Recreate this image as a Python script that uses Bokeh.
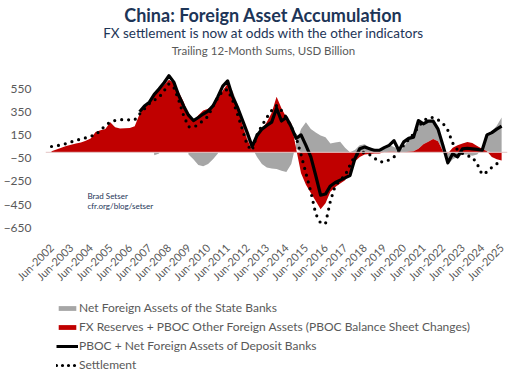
import numpy as np
from bokeh.plotting import figure
from bokeh.layouts import column
from bokeh.models import Range1d, FixedTicker, Span, Label, Legend, LegendItem, ColumnDataSource
from bokeh.embed import file_html
from bokeh.resources import INLINE

# ---- data: quarterly readings, first point Jun-2002, then every 3 months ----
step_months = 3

# FX Reserves + PBOC Other Foreign Assets (USD bn, trailing 12m)
fx_reserves = [
    10, 25, 40, 55,
    65, 75, 85, 100,
    120, 175, 190, 200,
    260, 215, 205, 208,
    210, 225, 330, 400,
    440, 490, 540, 580,
    625, 600, 520, 435,
    317, 274, 320, 360,
    375, 390, 460, 533,
    590, 520, 400, 240,
    110, 20, 150, 200,
    260, 340, 480, 380,
    300, 250, 30, -180,
    -280, -350, -420, -490,
    -440, -340, -300, -270,
    -240, -170, -80, -40,
    -20, -15, -10, -10,
    0, 5, 5, 0,
    0, 5, 10, 30,
    70, 90, 115, 95,
    10, -10, 40, 60,
    75, 88, 80, 55,
    30, 10, -40, -60,
    -70,
]

# Net Foreign Assets of the State Banks
state_banks = [
    0, 0, 0, 0,
    0, 0, 0, 0,
    0, 0, 0, 0,
    0, 0, 0, 0,
    0, 0, 0, 0,
    0, -25, -10, 0,
    0, 0, 0, 0,
    -20, -60, -110, -120,
    -100, -60, -10, 0,
    0, 10, 20, 40,
    50, 20, -40, -100,
    -130, -140, -145, -160,
    -170, -100, 50, 200,
    260, 200, 170, 145,
    130, 75, 85, 90,
    40, 0, 20, 60,
    70, 40, 30, 20,
    30, 60, 40, 20,
    40, 120, 150, 230,
    190, 180, 170, 120,
    20, -100, -60, -40,
    -20, -20, -30, -20,
    0, 120, 180, 230,
    300,
]

# PBOC + Net Foreign Assets of Deposit Banks
pboc_deposit = [
    None, None, None, None,
    None, None, None, None,
    None, None, None, None,
    None, None, None, None,
    None, None, 350, 400,
    432, 500, 547, 600,
    660, 605, 490, 400,
    320, 274, 300, 330,
    355, 400, 480, 570,
    615, 480, 390, 280,
    170, 50, 145, 200,
    231, 260, 380, 270,
    300, 220, 120, 150,
    60, -40, -200, -370,
    -360, -290, -260, -240,
    -220, -200, -56, 30,
    45, 30, 16, 16,
    40, 60, 100, 16,
    90, 120, 131, 274,
    246, 270, 268, 200,
    60, -90, -13, -40,
    30, 35, 30, 25,
    16, 150, 170, 200,
    225,
]

# Settlement
settlement = [
    50, 55, 65, 75,
    90, 100, 116, 125,
    140, 150, 190, 230,
    262, 275, 280, 285,
    278, 280, 330, 375,
    420, 450, 475, 530,
    590, 560, 450, 317,
    220, 215, 240, 275,
    310, 400, 470, 530,
    540, 450, 330, 200,
    60, 16, 150, 230,
    300, 360, 403, 360,
    300, 220, 130, -20,
    -180, -340, -530, -610,
    -615, -420, -286, -240,
    -200, -110, -30, -5,
    0, -20, -50, -80,
    -85, -65, -40, 10,
    60, 110, 160, 220,
    270, 300, 300, 280,
    250, 190, 80, 20,
    -10, -30, -40, -100,
    -190, -170, -130, -100,
    -65,
]

tick_years = list(range(2002, 2026))
tick_labels = [f"Jun-{y}" for y in tick_years]
y_ticks = [-650, -450, -250, -50, 150, 350, 550]

title = "China: Foreign Asset Accumulation"
subtitle = "FX settlement is now at odds with the other indicators"
units = "Trailing 12-Month Sums, USD Billion"
credit = ["Brad Setser", "cfr.org/blog/setser"]
legend_labels = [
    "Net Foreign Assets of the State Banks",
    "FX Reserves + PBOC Other Foreign Assets (PBOC Balance Sheet Changes)",
    "PBOC + Net Foreign Assets of Deposit Banks",
    "Settlement",
]

# ---- derived ----
n = len(fx_reserves)
x = np.arange(n) * step_months  # months since Jun-2002
red = np.array(fx_reserves, dtype=float)
grey = np.array(state_banks, dtype=float)
blk = np.array([np.nan if v is None else v for v in pboc_deposit], dtype=float)
stl = np.array(settlement, dtype=float)

red_pos = np.maximum(red, 0)
red_neg = np.minimum(red, 0)
grey_base = np.where(grey >= 0, red_pos, red_neg)
grey_top = grey_base + grey

src = ColumnDataSource(dict(x=x, red=red, zero=np.zeros(n), gb=grey_base, gt=grey_top, blk=blk, stl=stl))

FONT = "Lato"
NAVY = "#1d3557"
GRAYTXT = "#595959"
RED = "#c00000"
GREY = "#a6a6a6"

p = figure(frame_width=462, frame_height=227, output_backend="svg", toolbar_location=None,
           x_range=Range1d(-3.7, 279.6), y_range=Range1d(-700, 1257),
           min_border_left=32, min_border_right=10, min_border_top=6, min_border_bottom=54)
p.outline_line_color = None
p.xgrid.grid_line_color = None
p.ygrid.grid_line_color = None
p.border_fill_color = "white"

r_grey = p.varea(x="x", y1="gb", y2="gt", source=src, fill_color=GREY)
r_red = p.varea(x="x", y1="zero", y2="red", source=src, fill_color=RED)
p.add_layout(Span(location=0, dimension="width", line_color="#e3c4c4", line_width=1))
r_blk = p.line(x="x", y="blk", source=src, line_color="black", line_width=3.2, line_join="round")
r_stl = p.line(x="x", y="stl", source=src, line_color="black", line_width=3.2,
               line_dash="0 7", line_cap="round")

# axes
p.yaxis.ticker = FixedTicker(ticks=y_ticks)
p.yaxis.axis_line_color = None
p.yaxis.major_tick_line_color = None
p.yaxis.minor_tick_line_color = None
p.yaxis.major_label_text_font = FONT
p.yaxis.major_label_text_font_size = "12px"
p.yaxis.major_label_text_color = GRAYTXT
p.yaxis.major_label_standoff = 8

xt = [(y - 2002) * 12 for y in tick_years]
p.xaxis.ticker = FixedTicker(ticks=xt)
p.xaxis.major_label_overrides = {t: lab for t, lab in zip(xt, tick_labels)}
p.xaxis.major_label_orientation = np.pi / 4
p.xaxis.axis_line_color = None
p.xaxis.major_tick_line_color = None
p.xaxis.minor_tick_line_color = None
p.xaxis.major_label_text_font = FONT
p.xaxis.major_label_text_font_size = "11px"
p.xaxis.major_label_text_color = GRAYTXT
p.xaxis.major_label_standoff = 6

# titles (inside the tall frame, above the data)
p.add_layout(Label(x=130, y=1185, text=title, text_align="center", text_baseline="middle",
                   text_font=FONT, text_font_size="18px", text_font_style="bold", text_color=NAVY))
p.add_layout(Label(x=130, y=1030, text=subtitle, text_align="center", text_baseline="middle",
                   text_font=FONT, text_font_size="13.5px", text_color=NAVY))
p.add_layout(Label(x=130, y=875, text=units, text_align="center", text_baseline="middle",
                   text_font=FONT, text_font_size="11.5px", text_color=GRAYTXT))

# credit
p.add_layout(Label(x=22, y=-377, text=credit[0], text_align="left", text_baseline="middle",
                   text_font=FONT, text_font_size="8px", text_color=NAVY))
p.add_layout(Label(x=22, y=-462, text=credit[1], text_align="left", text_baseline="middle",
                   text_font=FONT, text_font_size="8px", text_color=NAVY))

# legend figure (its glyphs sit outside its visible range; they only feed the legend)
q = figure(width=504, height=83, output_backend="svg", toolbar_location=None,
           x_axis_location=None, y_axis_location=None,
           min_border_left=32, min_border_right=10, min_border_top=0, min_border_bottom=0,
           x_range=Range1d(0, 1), y_range=Range1d(0, 1))
q.outline_line_color = None
q.xgrid.grid_line_color = None
q.ygrid.grid_line_color = None
dummy = ColumnDataSource(dict(x=[5, 6], y1=[5, 5], y2=[6, 6]))
l_grey = q.varea(x="x", y1="y1", y2="y2", source=dummy, fill_color=GREY)
l_red = q.varea(x="x", y1="y1", y2="y2", source=dummy, fill_color=RED)
l_blk = q.line(x="x", y="y1", source=dummy, line_color="black", line_width=3)
l_stl = q.line(x="x", y="y1", source=dummy, line_color="black", line_width=3.2,
               line_dash="0 6", line_cap="round")

legend = Legend(items=[LegendItem(label=legend_labels[0], renderers=[l_grey]),
                       LegendItem(label=legend_labels[1], renderers=[l_red]),
                       LegendItem(label=legend_labels[2], renderers=[l_blk]),
                       LegendItem(label=legend_labels[3], renderers=[l_stl])],
                location=(11, 1), orientation="vertical",
                label_text_font=FONT, label_text_font_size="12px", label_text_color=GRAYTXT,
                glyph_width=22, glyph_height=6, label_height=12, spacing=4, padding=2, margin=0,
                label_standoff=1, border_line_color=None, background_fill_alpha=0)
q.add_layout(legend)

layout = column(p, q, spacing=0)
open("out.html", "w").write(file_html(layout, INLINE))
